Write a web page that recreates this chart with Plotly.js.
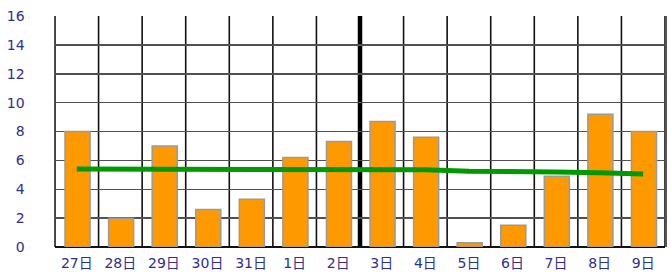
<!DOCTYPE html>
<html>
<head>
<meta charset="utf-8">
<script src="https://cdn.plot.ly/plotly-3.0.1.min.js"></script>
<style>html,body{margin:0;padding:0;background:#fff;}#chart{width:671px;height:273px;}</style>
</head>
<body>
<div id="chart"></div>
<script>
const categories = ["27日","28日","29日","30日","31日","1日","2日","3日","4日","5日","6日","7日","8日","9日"];
const barValues = [8.0, 2.0, 7.0, 2.6, 3.3, 6.2, 7.3, 8.7, 7.6, 0.3, 1.5, 4.9, 9.2, 8.0];
const lineValues = [5.4, 5.4, 5.4, 5.35, 5.35, 5.35, 5.35, 5.35, 5.35, 5.25, 5.25, 5.2, 5.15, 5.05];
const yTicks = [0, 2, 4, 6, 8, 10, 12, 14, 16];
const markerIndex = 6.5;

const shapes = [];
for (let i = 0; i <= categories.length; i++) {
  shapes.push({type:'line', xref:'x', yref:'paper', x0:i-0.5, x1:i-0.5, y0:0, y1:1,
    line:{color:'#111', width:1.6}, layer:'below'});
}
shapes.push({type:'line', xref:'x', yref:'paper', x0:markerIndex, x1:markerIndex, y0:0, y1:1,
  line:{color:'#000', width:4.5}, layer:'below'});

const traces = [
  {type:'bar', x:categories, y:barValues, offset:-0.27, width:0.575,
   marker:{color:'#ff9900', line:{color:'#9a9a9a', width:1.5}},
   hoverinfo:'skip'},
  {type:'scatter', mode:'lines', x:categories, y:lineValues,
   line:{color:'#009900', width:5}, hoverinfo:'skip'}
];

const tf = {family:'"DejaVu Sans", "Noto Sans CJK JP", sans-serif', size:14, color:'#2e2e8f'};
const layout = {
  width:671, height:273,
  margin:{l:55, r:6, t:16, b:26, pad:0},
  paper_bgcolor:'#fff', plot_bgcolor:'#fff',
  showlegend:false,
  font:tf,
  xaxis:{type:'category', range:[-0.5, categories.length-0.5], showgrid:false, zeroline:false,
    showline:false, ticks:'', ticklabelstandoff:6, tickfont:tf, fixedrange:true},
  yaxis:{range:[0,16], tickvals:yTicks, showgrid:true, gridcolor:'#505050', gridwidth:1.5,
    zeroline:true, zerolinecolor:'#111', zerolinewidth:1.6, showline:true, mirror:true, linecolor:'#555', linewidth:1.5,
    ticks:'', ticklabelstandoff:26, tickfont:tf, fixedrange:true},
  shapes:shapes
};

Plotly.newPlot('chart', traces, layout, {displayModeBar:false, staticPlot:true});
</script>
</body>
</html>
